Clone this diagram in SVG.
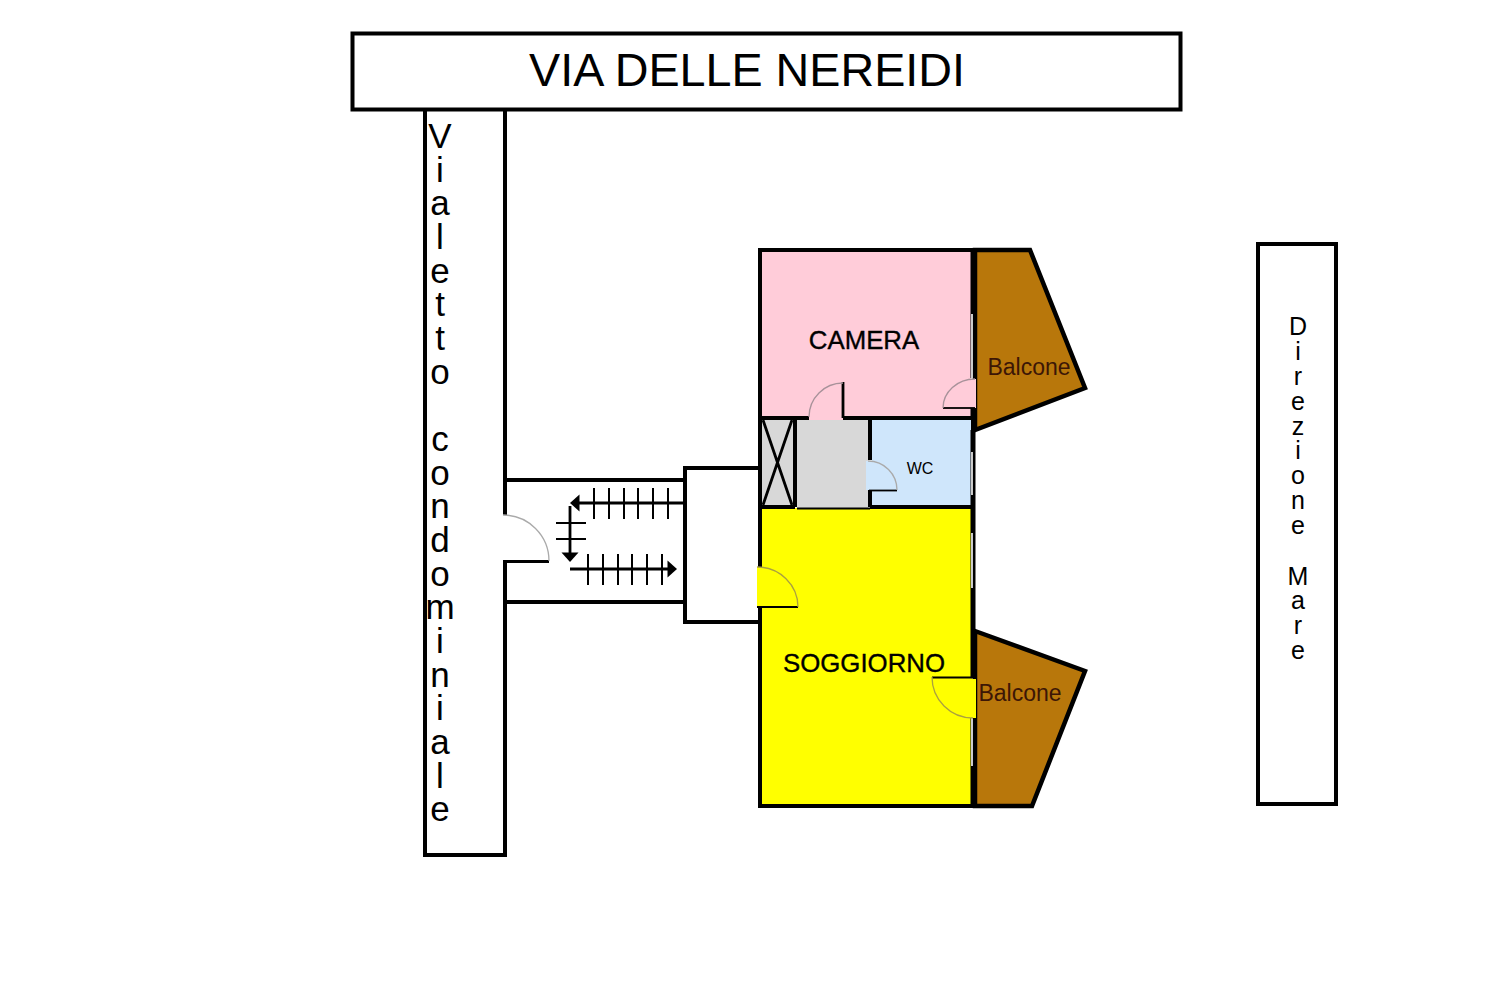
<svg xmlns="http://www.w3.org/2000/svg" width="1500" height="999" viewBox="0 0 1500 999">
<style>
text{font-family:"Liberation Sans",Arial,sans-serif;fill:#000;text-anchor:middle}
.w{fill:none;stroke:#000;stroke-width:4}
.r{fill:none;stroke:#000;stroke-width:5}
.t{fill:none;stroke:#000;stroke-width:2}
.l{fill:none;stroke:#000;stroke-width:2.8}
.f{fill:none;stroke:#000;stroke-width:1.8}
.a{fill:none;stroke:#aaa;stroke-width:1.3}
.ap{fill:none;stroke:#a8929a;stroke-width:1.3}
.ay{fill:none;stroke:#aaa040;stroke-width:1.3}
.win{stroke:#fff;stroke-width:1.6;fill:none}
.bal{fill:#b8770b;stroke:#000;stroke-width:4.5;stroke-linejoin:miter}
.lb{font-size:23px;fill:#3c1606}
.rm{font-size:25.800px;stroke:#000;stroke-width:.35}
</style>
<defs>
<path id="ah" d="M0 0L-9.500 -8.500L-9.500 8.500Z" fill="#000"/>
</defs>
<rect width="1500" height="999" fill="#fff"/>
<g id="via-delle-nereidi">
<rect x="352.500" y="33.500" width="828" height="76" fill="#fff" stroke="#000" stroke-width="4"/>
<text x="747" y="86" font-size="46.700">VIA DELLE NEREIDI</text>
</g>
<g id="vialetto">
<path class="w" d="M505 109V515M505 561V855H425V109"/>
<text font-size="35"><tspan x="440" y="148">V</tspan><tspan x="440" y="182">i</tspan><tspan x="440" y="215">a</tspan><tspan x="440" y="249">l</tspan><tspan x="440" y="283">e</tspan><tspan x="440" y="316">t</tspan><tspan x="440" y="350">t</tspan><tspan x="440" y="384">o</tspan><tspan x="440" y="451">c</tspan><tspan x="440" y="485">o</tspan><tspan x="440" y="518">n</tspan><tspan x="440" y="552">d</tspan><tspan x="440" y="586">o</tspan><tspan x="440" y="619">m</tspan><tspan x="440" y="653">i</tspan><tspan x="440" y="687">n</tspan><tspan x="440" y="720">i</tspan><tspan x="440" y="754">a</tspan><tspan x="440" y="788">l</tspan><tspan x="440" y="821">e</tspan></text>
</g>
<g id="direzione-mare">
<rect x="1258" y="244" width="78" height="560" fill="#fff" stroke="#000" stroke-width="4"/>
<text font-size="25"><tspan x="1298" y="335">D</tspan><tspan x="1298" y="360">i</tspan><tspan x="1298" y="385">r</tspan><tspan x="1298" y="410">e</tspan><tspan x="1298" y="435">z</tspan><tspan x="1298" y="459">i</tspan><tspan x="1298" y="484">o</tspan><tspan x="1298" y="509">n</tspan><tspan x="1298" y="534">e</tspan><tspan x="1298" y="585">M</tspan><tspan x="1298" y="609">a</tspan><tspan x="1298" y="634">r</tspan><tspan x="1298" y="659">e</tspan></text>
</g>
<g id="ingresso">
<path class="w" d="M505 480H685M505 602H685"/>
<path class="l" d="M503 561.500H549"/>
<path class="a" d="M503 515A46 46 0 0 1 549 561"/>
</g>
<g id="scale">
<path class="l" d="M683 503H578M570 506V553M570 569H669"/>
<path class="t" d="M594 488V519M609 488V519M624 488V519M638 488V519M653 488V519M668 488V519M556 523H586M556 539H586M588 554V585M603 554V585M618 554V585M632 554V585M647 554V585M662 554V585"/>
<use href="#ah" transform="translate(570 503) rotate(180)"/>
<use href="#ah" transform="translate(570 562) rotate(90)"/>
<use href="#ah" transform="translate(677 569)"/>
</g>
<g id="pianerottolo">
<path class="w" d="M760 468H685V622H760"/>
</g>
<g id="balcone-nord">
<polygon class="bal" points="975,250 1030,250 1085,388 975,430"/>
<text class="lb" x="1029" y="375">Balcone</text>
</g>
<g id="balcone-sud">
<polygon class="bal" points="975,631 1085,671 1032,806 975,806"/>
<text class="lb" x="1020" y="701">Balcone</text>
</g>
<g id="camera">
<rect x="760" y="250" width="211" height="168" fill="#ffccd9"/>
<path class="w" d="M973 250H760V418H809M843 418H971"/>
<path class="r" d="M973 250V378M973 408V430"/>
<path class="win" d="M972 314V378"/>
<rect x="809" y="383" width="34" height="37" fill="#ffccd9"/>
<path class="l" d="M843 382V418"/>
<path class="ap" d="M843 383A34 34 0 0 0 809 417"/>
<rect x="943" y="379" width="33" height="29" fill="#ffccd9"/>
<path class="f" d="M943 408H975"/>
<path class="ap" d="M975 379A32 29 0 0 0 943 408"/>
<text class="rm" x="864" y="349">CAMERA</text>
</g>
<g id="cavedio">
<rect x="762" y="420" width="31" height="86" fill="#d8d8d8"/>
<path class="l" d="M763 420L792 505M792 420L763 505"/>
<path class="w" d="M760 418V507M795 418V507"/>
</g>
<g id="disimpegno">
<rect x="797" y="420" width="71" height="88" fill="#d8d8d8"/>
</g>
<g id="wc">
<rect x="872" y="420" width="99" height="86" fill="#cfe6fb"/>
<path class="w" d="M870 418V460M870 490V507"/>
<path class="r" d="M973 430V507"/>
<rect x="866" y="461" width="31" height="29" fill="#cfe6fb"/>
<path class="f" d="M869 490.500H897"/>
<path class="a" d="M868 461A29 29 0 0 1 897 490"/>
<path class="win" d="M972 452V495"/>
<text x="920" y="474" font-size="16">WC</text>
</g>
<g id="soggiorno">
<rect x="760" y="508" width="212" height="298" fill="#ff0"/>
<path class="w" d="M760 507H795M870 507H973M760 507V567M760 607V806H975"/>
<path class="f" d="M797 508.500H870"/>
<path class="r" d="M973 507V677M973 718V806"/>
<path class="win" d="M972 533V588M972 718V766"/>
<path d="M757 567H760V607H757Z" fill="#ff0"/>
<path class="f" d="M757 607H798"/>
<path class="ay" d="M757 567A41 40 0 0 1 798 607"/>
<rect x="970" y="679" width="6" height="39" fill="#ff0"/>
<path class="f" d="M932 677.500H975"/>
<path class="ay" d="M932 677A41 41 0 0 0 973 718"/>
<text class="rm" x="864" y="672">SOGGIORNO</text>
</g>
</svg>
